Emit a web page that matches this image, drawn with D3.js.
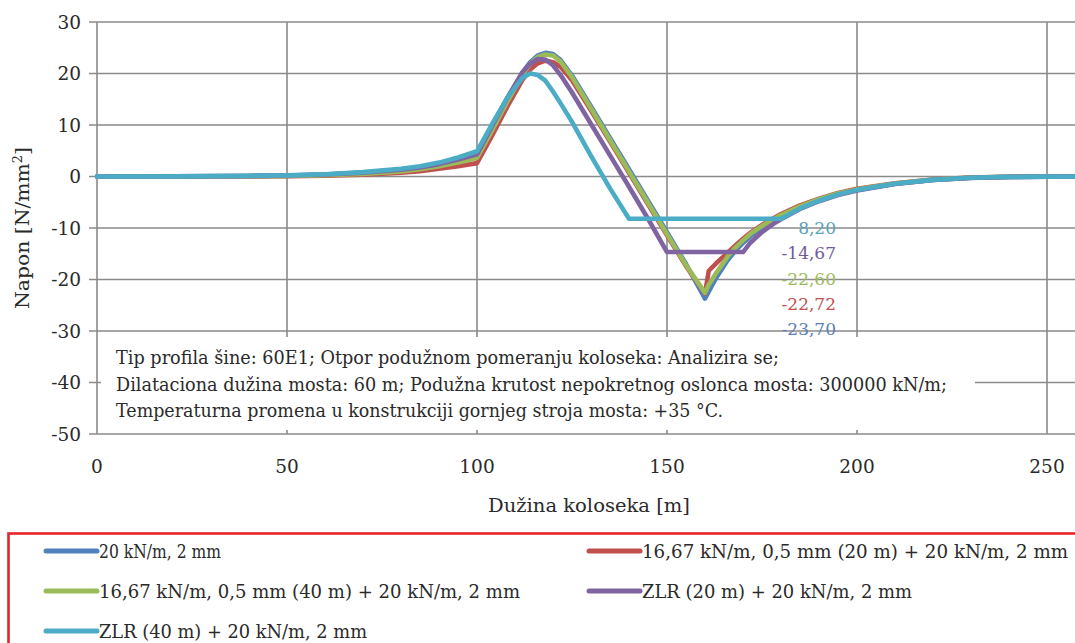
<!DOCTYPE html>
<html lang="sr">
<head>
<meta charset="UTF-8"/>
<title>Napon u šini</title>
<script src="https://d3js.org/d3.v7.min.js"></script>
<style>
  body { margin: 0; background: #fff; }
</style>
</head>
<body>
<svg id="chart"></svg>
<script>
// x positions along the track [m]
const xKm = [0, 20, 40, 50, 60, 70, 80, 85, 90, 95, 100, 104, 108, 112, 114, 116, 118, 120, 122, 125,
  130, 135, 140, 145, 150, 155, 160, 161, 163, 166, 168, 170, 172, 175, 178, 180, 185, 190, 195, 200,
  210, 220, 230, 240, 250, 270, 300];

// stress [N/mm2] for each series
const sBlue = [0, 0.02, 0.1, 0.2, 0.4, 0.75, 1.35, 1.8, 2.5, 3.4, 4.5, 9.8, 15.2, 20.2, 22.2, 23.5, 24.0, 23.8, 22.6, 19.6,
  13.6, 7.5, 1.4, -4.7, -10.8, -17, -23.7, -22.3, -19.6, -16.2, -14.4, -12.9, -11.6, -10.0, -8.6, -7.8, -6.0, -4.6, -3.4, -2.6,
  -1.4, -0.65, -0.25, -0.08, -0.02, 0, 0];
const sRed = [0, 0, 0.02, 0.05, 0.15, 0.35, 0.75, 1.05, 1.5, 2.0, 2.6, 8.0, 13.6, 18.8, 20.8, 22.0, 22.5, 22.2, 21.3, 18.7,
  12.8, 6.8, 0.7, -5.4, -11.4, -17.4, -22.72, -18.3, -16.8, -14.8, -13.4, -12.1, -10.9, -9.4, -8.1, -7.3, -5.6, -4.3, -3.2, -2.4,
  -1.3, -0.58, -0.2, -0.06, -0.02, 0, 0];
const sGreen = [0, 0.01, 0.05, 0.1, 0.25, 0.5, 1.0, 1.4, 2.0, 2.7, 3.6, 9.0, 14.6, 19.8, 21.9, 23.2, 23.7, 23.5, 22.3, 19.3,
  13.2, 7.1, 1.0, -5.1, -11.2, -17.2, -22.6, -21.0, -18.7, -15.5, -13.8, -12.4, -11.1, -9.6, -8.3, -7.5, -5.8, -4.4, -3.3, -2.5,
  -1.35, -0.6, -0.22, -0.07, -0.02, 0, 0];
const sPurple = [0, 0.02, 0.1, 0.2, 0.38, 0.72, 1.3, 1.75, 2.4, 3.3, 4.3, 9.8, 15.3, 20.3, 21.9, 22.8, 22.7, 21.6, 19.7, 16.3,
  10.2, 4.1, -2.0, -8.2, -14.67, -14.67, -14.67, -14.67, -14.67, -14.67, -14.67, -14.67, -12.8, -10.8, -9.2, -8.3, -6.3, -4.8, -3.6, -2.7,
  -1.45, -0.68, -0.27, -0.09, -0.02, 0, 0];
const sCyan = [0, 0.02, 0.12, 0.22, 0.45, 0.85, 1.5, 2.0, 2.7, 3.7, 4.9, 10.2, 15.3, 19.2, 20.0, 19.7, 18.6, 16.5, 14.2, 10.6,
  4.0, -2.3, -8.2, -8.2, -8.2, -8.2, -8.2, -8.2, -8.2, -8.2, -8.2, -8.2, -8.2, -8.2, -8.2, -8.2, -6.2, -4.7, -3.5, -2.6,
  -1.4, -0.65, -0.25, -0.08, -0.02, 0, 0];

const seriesNames = [
  "20 kN/m, 2 mm",
  "16,67 kN/m, 0,5 mm (20 m) + 20 kN/m, 2 mm",
  "16,67 kN/m, 0,5 mm (40 m) + 20 kN/m, 2 mm",
  "ZLR (20 m) + 20 kN/m, 2 mm",
  "ZLR (40 m) + 20 kN/m, 2 mm"
];
const minLabels = ["8,20", "-14,67", "-22,60", "-22,72", "-23,70"];
const xTicks = [0, 50, 100, 150, 200, 250, 300];
const yTicks = [30, 20, 10, 0, -10, -20, -30, -40, -50];
const noteLines = [
  "Tip profila šine: 60E1; Otpor podužnom pomeranju koloseka: Analizira se;",
  "Dilataciona dužina mosta: 60 m; Podužna krutost nepokretnog oslonca mosta: 300000 kN/m;",
  "Temperaturna promena u konstrukciji gornjeg stroja mosta: +35 °C."
];

const colors = ["#4f81bd", "#c0504d", "#9bbb59", "#8064a2", "#4bacc6"];
const labelColors = ["#5aa3b8", "#6e5b9a", "#9bbb59", "#c0504d", "#5a80ba"];
const allSeries = [sBlue, sRed, sGreen, sPurple, sCyan];
const serif = "DejaVu Serif";
const textColor = "#2a2a2a";

const W = 1075, H = 643;
const svg = d3.select("#chart").attr("width", W).attr("height", H);

const x = d3.scaleLinear().domain([0, 300]).range([97, 97 + 300 * 3.8]);
const y = d3.scaleLinear().domain([-50, 30]).range([434, 22]);
const gridColor = "#8a8a8a";

// grid
svg.append("g").selectAll("line").data(yTicks).join("line")
  .attr("x1", 89).attr("x2", x(300))
  .attr("y1", d => y(d)).attr("y2", d => y(d))
  .attr("stroke", gridColor).attr("stroke-width", 1.6);
svg.append("g").selectAll("line").data(xTicks).join("line")
  .attr("x1", d => x(d)).attr("x2", d => x(d))
  .attr("y1", y(30)).attr("y2", y(-50))
  .attr("stroke", gridColor).attr("stroke-width", 1.6);

// tick labels
svg.append("g").selectAll("text").data(yTicks).join("text")
  .attr("x", 81).attr("y", d => y(d)).attr("dy", "0.36em")
  .attr("text-anchor", "end")
  .attr("font-family", serif).attr("font-size", 18.5).attr("fill", textColor)
  .text(d => d);
svg.append("g").selectAll("text").data(xTicks.filter(d => d <= 250)).join("text")
  .attr("x", d => x(d)).attr("y", 473)
  .attr("text-anchor", "middle")
  .attr("font-family", serif).attr("font-size", 18.5).attr("fill", textColor)
  .text(d => d);

// axis titles
svg.append("text")
  .attr("transform", "translate(29," + y(-10) + ") rotate(-90)")
  .attr("text-anchor", "middle")
  .attr("font-family", serif).attr("font-size", 19).attr("fill", textColor)
  .attr("textLength", 162).attr("lengthAdjust", "spacingAndGlyphs")
  .html('Napon [N/mm<tspan baseline-shift="super" font-size="12">2</tspan>]');
svg.append("text")
  .attr("x", 589).attr("y", 512).attr("text-anchor", "middle")
  .attr("font-family", serif).attr("font-size", 19).attr("fill", textColor)
  .attr("textLength", 202).attr("lengthAdjust", "spacingAndGlyphs")
  .text("Dužina koloseka [m]");

// note box
svg.append("rect").attr("x", 101).attr("y", 337).attr("width", 874).attr("height", 93).attr("fill", "#fff");
const noteWidths = [663, 831, 607];
svg.append("g").selectAll("text").data(noteLines).join("text")
  .attr("x", 116).attr("y", (d, i) => 364 + i * 26.5)
  .attr("font-family", serif).attr("font-size", 18.5).attr("fill", textColor)
  .attr("textLength", (d, i) => noteWidths[i]).attr("lengthAdjust", "spacingAndGlyphs")
  .text(d => d);

// series
const line = d3.line().x((d, i) => x(xKm[i])).y(d => y(d));
svg.append("g").selectAll("path").data(allSeries).join("path")
  .attr("d", line)
  .attr("fill", "none")
  .attr("stroke", (d, i) => colors[i])
  .attr("stroke-width", 4.6)
  .attr("stroke-linejoin", "round")
  .attr("stroke-linecap", "round");

// value labels
svg.append("g").selectAll("text").data(minLabels).join("text")
  .attr("x", 836).attr("y", (d, i) => y(-10) + i * 25.3).attr("dy", "0.36em")
  .attr("text-anchor", "end")
  .attr("font-family", serif).attr("font-size", 17)
  .attr("fill", (d, i) => labelColors[i])
  .text(d => d);

// legend
svg.append("rect").attr("x", 8.5).attr("y", 533.5).attr("width", 1100).attr("height", 200)
  .attr("fill", "#fff").attr("stroke", "#e8242a").attr("stroke-width", 2.6);
const legCol = [45, 588], legRow = [551, 591, 631];
const legWidths = [122, 426, 421, 270, 268];
const leg = svg.append("g").selectAll("g").data(seriesNames).join("g")
  .attr("transform", (d, i) => "translate(" + legCol[i % 2] + "," + legRow[Math.floor(i / 2)] + ")");
leg.append("line").attr("x1", 1).attr("x2", 52)
  .attr("stroke", (d, i) => colors[i]).attr("stroke-width", 5).attr("stroke-linecap", "round");
leg.append("text").attr("x", 54).attr("dy", "0.36em")
  .attr("font-family", serif).attr("font-size", 18.5).attr("fill", textColor)
  .attr("textLength", (d, i) => legWidths[i]).attr("lengthAdjust", "spacingAndGlyphs")
  .text(d => d);
</script>
</body>
</html>
